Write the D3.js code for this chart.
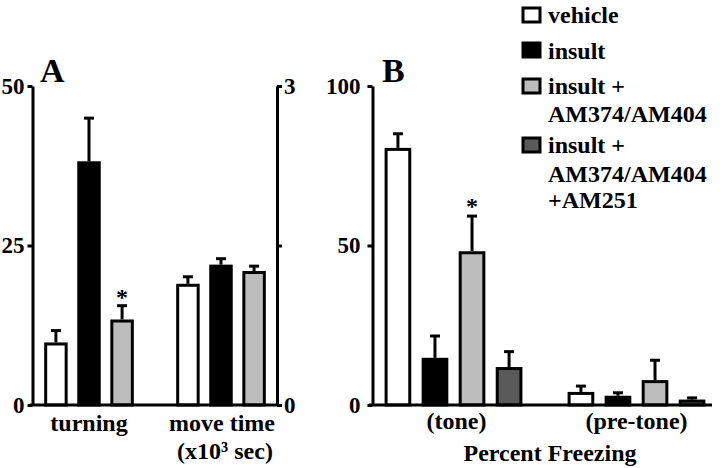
<!DOCTYPE html>
<html><head><meta charset="utf-8">
<script src="https://cdn.jsdelivr.net/npm/d3@7"></script>
<style>
body{margin:0;background:#fff;}
svg text{font-family:"Liberation Serif","Times New Roman",serif;font-weight:bold;fill:#000;}
</style></head>
<body><svg id="c" width="720" height="468"></svg>
<script>
// ---- data ----
const seriesNames = ["vehicle", "insult", "insult + AM374/AM404", "insult + AM374/AM404 +AM251"];
const seriesColors = ["#ffffff", "#000000", "#bdbdbd", "#5a5a5a"];
const groupsA = ["turning", "move time"];
const turningVals = [9.8, 38.2, 13.4];
const turningErr = [2.1, 7.0, 2.4];
const moveVals = [1.14, 1.32, 1.26];   // x10^3 sec, right axis
const moveErr = [0.08, 0.07, 0.06];
const groupsB = ["(tone)", "(pre-tone)"];
const toneVals = [80.6, 14.8, 48.2, 11.9];
const toneErr = [4.9, 7.3, 11.5, 5.3];
const pretoneVals = [4.1, 2.9, 7.8, 1.7];
const pretoneErr = [2.3, 1.4, 6.7, 1.0];
const ticksALeft = [0, 25, 50];
const ticksARight = [0, 1.5, 3];
const ticksB = [0, 50, 100];

const svg = d3.select("#c");
const Y0 = 405, Y1 = 86;
const SW = 3;

// ---- scales ----
const yA = d3.scaleLinear().domain([0, 50]).range([Y0, Y1]);
const yA2 = d3.scaleLinear().domain([0, 3]).range([Y0, Y1]);
const yB = d3.scaleLinear().domain([0, 100]).range([Y0, Y1]);

const xA = d3.scaleBand().domain(groupsA).range([23, 287]).padding(0);
const xAin = d3.scaleBand().domain(seriesNames.slice(0, 3)).range([0, xA.bandwidth()]).paddingInner(0.29).paddingOuter(0.64);
const xB = d3.scaleBand().domain(groupsB).range([362, 728]).padding(0);
const xBin = d3.scaleBand().domain(seriesNames).range([0, xB.bandwidth()]).paddingInner(0.28).paddingOuter(0.61);

// ---- bars helper ----
function drawBars(g, group, xo, xi, vals, errs, y) {
  vals.forEach((v, i) => {
    const s = seriesNames[i];
    const x = xo(group) + xi(s);
    const w = xi.bandwidth();
    const cx = x + w / 2;
    const top = y(v), etop = y(v + errs[i]);
    // error bar
    g.append("line").attr("x1", cx).attr("x2", cx).attr("y1", top).attr("y2", etop + 1.5)
      .attr("stroke", "#000").attr("stroke-width", SW);
    g.append("line").attr("x1", cx - 5).attr("x2", cx + 5).attr("y1", etop + 1.5).attr("y2", etop + 1.5)
      .attr("stroke", "#000").attr("stroke-width", SW);
    g.append("rect").attr("x", x + SW / 2).attr("y", top + SW / 2)
      .attr("width", w - SW).attr("height", Y0 - top - SW / 2)
      .attr("fill", seriesColors[i]).attr("stroke", "#000").attr("stroke-width", SW);
  });
}

const gA = svg.append("g");
drawBars(gA, "turning", xA, xAin, turningVals, turningErr, yA);
drawBars(gA, "move time", xA, xAin, moveVals, moveErr, yA2);
const gB = svg.append("g");
drawBars(gB, "(tone)", xB, xBin, toneVals, toneErr, yB);
drawBars(gB, "(pre-tone)", xB, xBin, pretoneVals, pretoneErr, yB);

// stars
function star(x, y) { svg.append("text").attr("x", x).attr("y", y).attr("text-anchor", "middle").attr("font-size", 24).text("*"); }
star(xA("turning") + xAin(seriesNames[2]) + xAin.bandwidth() / 2, 305);
star(xB("(tone)") + xBin(seriesNames[2]) + xBin.bandwidth() / 2, 214);

// ---- axes ----
function styleAxis(g) {
  g.select(".domain").attr("stroke-width", SW);
  g.selectAll(".tick line").attr("stroke-width", SW);
  g.selectAll(".tick text").attr("font-size", 23).attr("font-family", "Liberation Serif").attr("font-weight", "bold");
}
const axL = svg.append("g").attr("transform", "translate(32.5,0)")
  .call(d3.axisLeft(yA).tickValues(ticksALeft).tickSize(5).tickSizeOuter(0).tickPadding(3).tickFormat(d3.format("d")));
styleAxis(axL);
const axR = svg.append("g").attr("transform", "translate(277,0)")
  .call(d3.axisRight(yA2).tickValues(ticksARight).tickSize(5).tickSizeOuter(0).tickPadding(2).tickFormat(d => d === 1.5 ? "" : d3.format("d")(d)));
styleAxis(axR);
const axB = svg.append("g").attr("transform", "translate(372.5,0)")
  .call(d3.axisLeft(yB).tickValues(ticksB).tickSize(5).tickSizeOuter(0).tickPadding(7).tickFormat(d3.format("d")));
styleAxis(axB);

// baselines
svg.append("line").attr("x1", 30).attr("x2", 279).attr("y1", Y0).attr("y2", Y0).attr("stroke", "#000").attr("stroke-width", SW);
svg.append("line").attr("x1", 369).attr("x2", 712).attr("y1", Y0).attr("y2", Y0).attr("stroke", "#000").attr("stroke-width", SW);

// category labels
function label(x, y, t, fs) { return svg.append("text").attr("x", x).attr("y", y).attr("text-anchor", "middle").attr("font-size", fs || 24).text(t); }
label(xA("turning") + xA.bandwidth() / 2, 431, "turning");
label(xA("move time") + xA.bandwidth() / 2 + 1, 431, "move time");
label(xA("move time") + xA.bandwidth() / 2 + 4, 459, "(x10³ sec)");
label(xB("(tone)") + xB.bandwidth() / 2 + 3, 429, "(tone)");
label(xB("(pre-tone)") + xB.bandwidth() / 2, 429, "(pre-tone)");
label(550, 461, "Percent Freezing");

// panel letters
svg.append("text").attr("x", 40).attr("y", 82).attr("font-size", 34).text("A");
svg.append("text").attr("x", 382).attr("y", 82).attr("font-size", 34).text("B");

// ---- legend ----
const legendLines = [["vehicle"], ["insult"], ["insult +", "AM374/AM404"], ["insult +", "AM374/AM404", "+AM251"]];
const legendBoxY = [7, 42, 78, 137];
const legendBase = [[23], [59], [94, 122], [153, 182, 208]];
legendLines.forEach((lines, i) => {
  svg.append("rect").attr("x", 523).attr("y", legendBoxY[i] + 1).attr("width", 17).attr("height", 14)
    .attr("fill", seriesColors[i]).attr("stroke", "#000").attr("stroke-width", SW);
  lines.forEach((t, j) => {
    svg.append("text").attr("x", 548).attr("y", legendBase[i][j]).attr("font-size", 24).text(t);
  });
});
</script></body></html>
